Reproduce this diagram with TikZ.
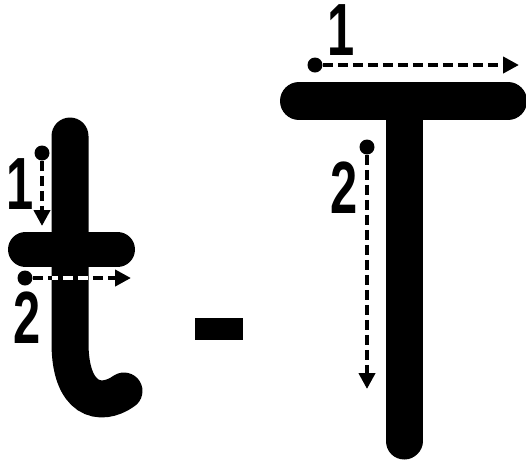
\documentclass[tikz,border=0pt]{standalone}
\usepackage{fontspec}
\setmainfont{Liberation Sans}
\usetikzlibrary{arrows.meta}
\begin{document}
\begin{tikzpicture}[
        x=0.5pt, y=-0.5pt,
        letter_stroke/.style={line width=18.5pt, line cap=round, black},
        start_dot/.style={circle, fill=black, inner sep=0pt, minimum size=7.5pt},
        trace_arrow/.style={line width=2.3pt, dash pattern=on 5pt off 2.5pt, -{Triangle[length=8pt, width=8pt]}},
        step_label/.style={font=\bfseries\fontsize{37}{37}\selectfont, xscale=0.66, inner sep=0pt}
    ]
        \useasboundingbox (0,0) rectangle (526,463);
        % Malé t
        \draw[letter_stroke] (70,136) -- (70,343) .. controls (70,400) and (100,408) .. (124,391);
        \draw[letter_stroke, line width=17.5pt] (25.5,249.5) -- (117.5,249.5);
        \node[start_dot] (t_dot1) at (42,153) {};
        \coordinate (t_end1) at (42,226);
        \draw[trace_arrow] (t_dot1) -- (t_end1);
        \node[step_label] (t_num1) at (20,184) {1};
        \node[start_dot] (t_dot2) at (25,278) {};
        \coordinate (t_end2) at (131,278);
        \draw[trace_arrow] (t_dot2) -- (t_end2);
        \begin{scope}
            \clip (52,265) rectangle (88.5,292);
            \draw[trace_arrow, white, -] (t_dot2) -- (t_end2);
        \end{scope}
        \node[step_label] (t_num2) at (27,318) {2};
        % Pomlčka
        \fill (195,318) rectangle (243,340);
        % Velké T
        \draw[letter_stroke, line width=19pt] (299,101) -- (508,101);
        \draw[letter_stroke] (404,101) -- (404,441);
        \node[start_dot] (T_dot1) at (315,65) {};
        \coordinate (T_end1) at (519,65);
        \draw[trace_arrow] (T_dot1) -- (T_end1);
        \node[step_label] (T_num1) at (341,30) {1};
        \node[start_dot] (T_dot2) at (367,147) {};
        \coordinate (T_end2) at (367,389);
        \draw[trace_arrow] (T_dot2) -- (T_end2);
        \node[step_label] (T_num2) at (344,188) {2};
\end{tikzpicture}
\end{document}
